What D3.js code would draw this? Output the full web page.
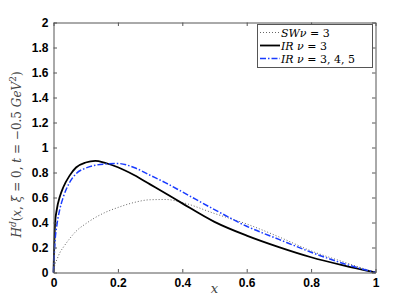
<!DOCTYPE html>
<html><head><meta charset="utf-8">
<script src="https://cdn.jsdelivr.net/npm/d3@7"></script>
<style>body{margin:0;background:#fff}svg{display:block}</style>
</head><body>
<script>
const xs      = [0,0.005,0.01,0.02,0.03,0.05,0.07,0.1,0.13,0.16,0.2,0.25,0.3,0.35,0.4,0.5,0.6,0.7,0.8,0.9,1.0];
const irNu3   = [0,0.40,0.50,0.61,0.68,0.775,0.84,0.88,0.893,0.877,0.842,0.78,0.705,0.63,0.553,0.405,0.295,0.203,0.122,0.057,0];
const irNu345 = [0,0.26,0.37,0.51,0.60,0.72,0.79,0.835,0.858,0.868,0.872,0.84,0.778,0.715,0.645,0.503,0.37,0.265,0.162,0.072,0];
const swNu3   = [0,0.07,0.10,0.16,0.20,0.27,0.33,0.39,0.44,0.48,0.52,0.56,0.582,0.584,0.56,0.472,0.388,0.285,0.173,0.085,0];
const xTicks = [0,0.2,0.4,0.6,0.8,1];
const yTicks = [0,0.2,0.4,0.6,0.8,1,1.2,1.4,1.6,1.8,2];
const legendLabels = ["SW\u03BD = 3","IR  \u03BD = 3","IR  \u03BD = 3, 4, 5"];

const W=415,H=307, L=53.5, R=375.5, T=22.5, B=272.5;
const svg=d3.select("body").append("svg").attr("width",W).attr("height",H);
const x=d3.scaleLinear().domain([0,1]).range([L,R]);
const y=d3.scaleLinear().domain([0,2]).range([B,T]);
const axisCol="#555";

const line=d3.line().x(d=>x(d[0])).y(d=>y(d[1])).curve(d3.curveMonotoneX);
const g=svg.append("g");
g.append("path").datum(xs.map((v,i)=>[v,swNu3[i]])).attr("d",line)
 .attr("fill","none").attr("stroke","#666").attr("stroke-width",1).attr("stroke-dasharray","1,2");
g.append("path").datum(xs.map((v,i)=>[v,irNu3[i]])).attr("d",line)
 .attr("fill","none").attr("stroke","#000").attr("stroke-width",1.8);
g.append("path").datum(xs.map((v,i)=>[v,irNu345[i]])).attr("d",line)
 .attr("fill","none").attr("stroke","#1a3cff").attr("stroke-width",1.5).attr("stroke-dasharray","6,2,1.5,2");

const tl=3.5;
const fmt=d=>String(+d.toFixed(1));
const ax=svg.append("g");
ax.append("g").attr("transform",`translate(0,${B})`).call(d3.axisBottom(x).tickValues(xTicks).tickSizeInner(-tl).tickSizeOuter(0).tickFormat(fmt).tickPadding(6));
ax.append("g").attr("transform",`translate(0,${T})`).call(d3.axisTop(x).tickValues(xTicks).tickSizeInner(-tl).tickSizeOuter(0).tickFormat(""));
ax.append("g").attr("transform",`translate(${L},0)`).call(d3.axisLeft(y).tickValues(yTicks).tickSizeInner(-tl).tickSizeOuter(0).tickFormat(fmt).tickPadding(5));
ax.append("g").attr("transform",`translate(${R},0)`).call(d3.axisRight(y).tickValues(yTicks).tickSizeInner(-tl).tickSizeOuter(0).tickFormat(""));
ax.selectAll("path.domain").attr("stroke",axisCol);
ax.selectAll(".tick line").attr("stroke",axisCol);
ax.selectAll(".tick text").attr("fill","#000").attr("font-family","Liberation Sans, Arial, sans-serif")
  .attr("font-weight","bold").attr("font-size",12);

svg.append("text").attr("x",(L+R)/2).attr("y",293).attr("text-anchor","middle")
 .attr("font-family","DejaVu Serif, serif").attr("font-style","italic").attr("font-size",13).attr("fill","#444").text("x");
const yl=svg.append("text").attr("transform",`translate(21,${(T+B)/2+7}) rotate(-90)`).attr("text-anchor","middle")
 .attr("font-family","DejaVu Serif, serif").attr("font-size",12).attr("fill","#444");
yl.append("tspan").attr("font-style","italic").text("H");
yl.append("tspan").attr("font-style","italic").attr("dy",-5).attr("font-size",9).text("d");
yl.append("tspan").attr("dy",5).text("(");
yl.append("tspan").attr("font-style","italic").text("x");
yl.append("tspan").text(", ");
yl.append("tspan").attr("font-style","italic").text("\u03BE");
yl.append("tspan").text(" = 0, ");
yl.append("tspan").attr("font-style","italic").text("t");
yl.append("tspan").text(" = \u22120.5 ");
yl.append("tspan").attr("font-style","italic").text("GeV");
yl.append("tspan").attr("dy",-5).attr("font-size",9).text("2");
yl.append("tspan").attr("dy",5).text(")");

const lg=svg.append("g");
lg.append("rect").attr("x",257.5).attr("y",24.5).attr("width",115).attr("height",43)
 .attr("fill","#fff").attr("stroke",axisCol).attr("stroke-width",1);
const styles=[{c:"#666",w:1,d:"1,2"},{c:"#000",w:1.8,d:null},{c:"#1a3cff",w:1.5,d:"6,2,1.5,2"}];
legendLabels.forEach((t,i)=>{
  const yy=32.5+i*13;
  lg.append("line").attr("x1",260).attr("x2",280).attr("y1",yy).attr("y2",yy)
    .attr("stroke",styles[i].c).attr("stroke-width",styles[i].w).attr("stroke-dasharray",styles[i].d);
  const tx=lg.append("text").attr("x",281).attr("y",yy+4).attr("font-family","DejaVu Serif, serif")
    .attr("font-size",11).attr("fill","#000");
  const parts=t.split("=");
  tx.append("tspan").attr("font-style","italic").text(parts[0]);
  tx.append("tspan").text("= "+parts[1].trim());
});
</script>
</body></html>
